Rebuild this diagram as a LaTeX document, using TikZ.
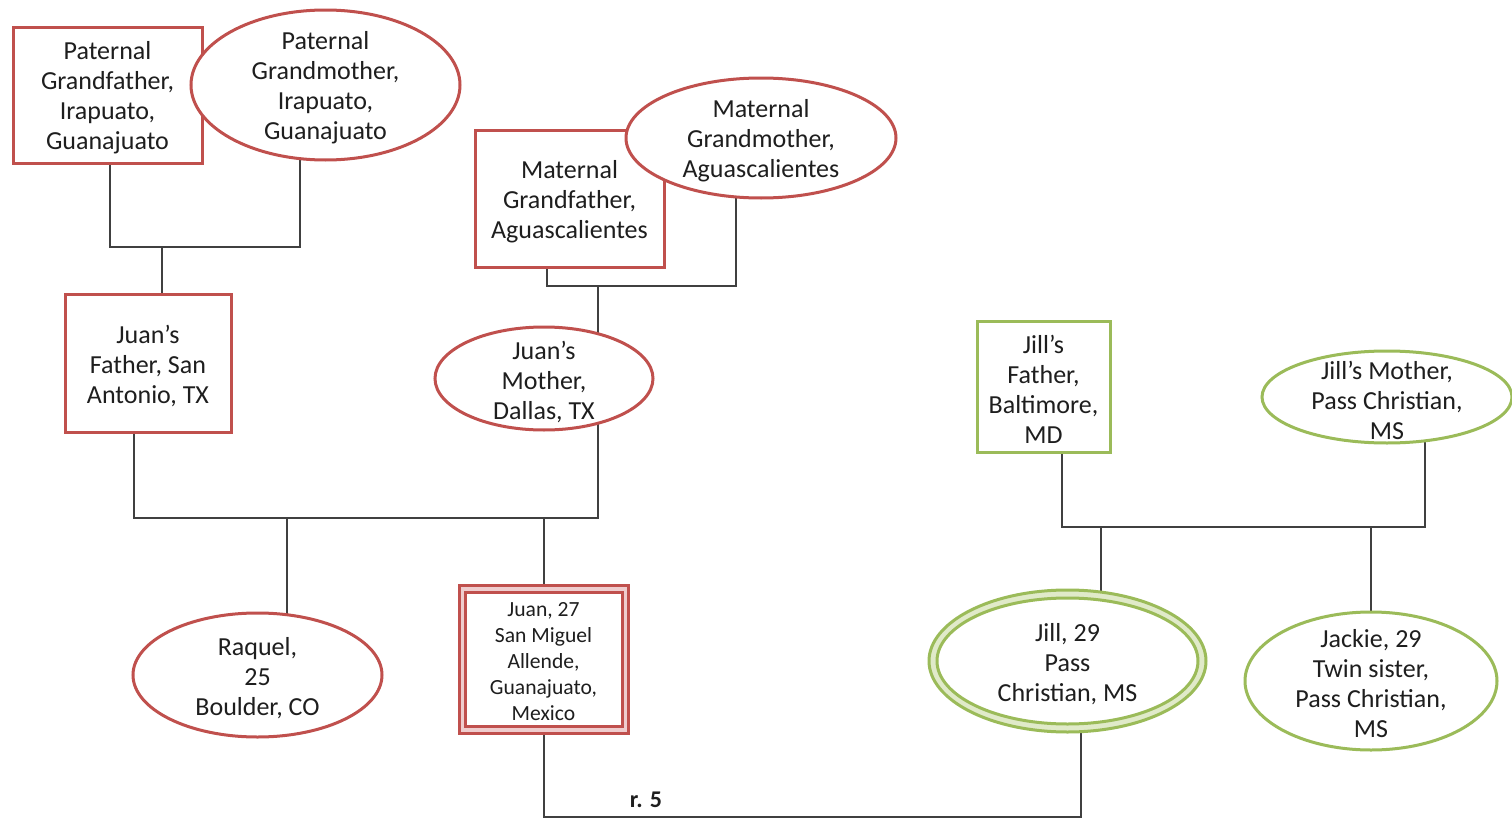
\documentclass[tikz,border=0pt]{standalone}
\usepackage{fontspec}
\setmainfont{Carlito}
\usetikzlibrary{backgrounds,shapes.geometric}
\definecolor{kinred}{HTML}{C0504D}
\definecolor{kinpink}{HTML}{EFCDCE}
\definecolor{kingreen}{HTML}{9BBB59}
\definecolor{kinlight}{HTML}{E0EAC9}
\definecolor{linegray}{HTML}{404040}
\definecolor{inktext}{HTML}{1E1E1E}
\begin{document}
\begin{tikzpicture}[x=0.5pt,y=-0.5pt,
  person/.style={fill=white, line width=1.5pt, inner sep=0pt, outer sep=0pt},
  malered/.style={person, rectangle, draw=kinred},
  femalered/.style={person, ellipse, draw=kinred},
  malegreen/.style={person, rectangle, draw=kingreen},
  femalegreen/.style={person, ellipse, draw=kingreen},
  txt/.style={align=center, text=inktext, inner sep=0pt, yshift=-1.5pt,
    font=\fontsize{13pt}{15pt}\selectfont},
  smalltxt/.style={align=center, text=inktext, inner sep=0pt, yshift=-1.5pt,
    font=\fontsize{10.8pt}{13pt}\selectfont},
  conn/.style={draw=linegray, line width=1pt}]
\useasboundingbox (0,0) rectangle (1512,819);

% Juan's side: grandparents
\node[malered, minimum width=94.5pt, minimum height=68pt,
  label={[txt]center:{Paternal\\Grandfather,\\Irapuato,\\Guanajuato}}]
  (pgf) at (107.5,95) {};
\node[femalered, minimum width=134.5pt, minimum height=75pt,
  label={[txt]center:{Paternal\\Grandmother,\\Irapuato,\\Guanajuato}}]
  (pgm) at (325.5,85) {};
\node[malered, minimum width=94.5pt, minimum height=68.5pt,
  label={[txt]center:{Maternal\\Grandfather,\\Aguascalientes}}]
  (mgf) at (569.5,198.5) {};
\node[femalered, minimum width=135pt, minimum height=60pt,
  label={[txt]center:{Maternal\\Grandmother,\\Aguascalientes}}]
  (mgm) at (761,138) {};

% Juan's parents
\node[malered, minimum width=83pt, minimum height=69pt,
  label={[txt]center:{Juan’s\\Father, San\\Antonio, TX}}]
  (jf) at (148,363) {};
\node[femalered, minimum width=109pt, minimum height=51.5pt,
  label={[txt]center:{Juan’s\\Mother,\\Dallas, TX}}]
  (jm) at (544,378.5) {};

% Juan and his sister
\node[femalered, minimum width=124.5pt, minimum height=62pt,
  label={[txt]center:{Raquel,\\25\\Boulder, CO}}]
  (raq) at (257.5,675) {};
\node[malered, fill=kinpink, minimum width=84.5pt, minimum height=74pt]
  (juan) at (543.5,659) {};
\node[malered, minimum width=78.5pt, minimum height=67pt,
  label={[smalltxt]center:{Juan, 27\\San Miguel\\Allende,\\Guanajuato,\\Mexico}}]
  (juanin) at (juan.center) {};

% Jill's side
\node[malegreen, minimum width=66.5pt, minimum height=65.5pt,
  label={[txt]center:{Jill’s\\Father,\\Baltimore,\\MD}}]
  (jlf) at (1043.5,386.5) {};
\node[femalegreen, minimum width=125pt, minimum height=46pt,
  label={[txt]center:{Jill’s Mother,\\Pass Christian,\\MS}}]
  (jlm) at (1387,397) {};
\node[femalegreen, fill=kinlight, minimum width=138.5pt, minimum height=71pt]
  (jill) at (1067.5,661) {};
\node[femalegreen, minimum width=130.5pt, minimum height=63pt,
  label={[txt]center:{Jill, 29\\Pass\\Christian, MS}}]
  (jillin) at (jill.center) {};
\node[femalegreen, minimum width=126pt, minimum height=69pt,
  label={[txt]center:{Jackie, 29\\Twin sister,\\Pass Christian,\\MS}}]
  (jackie) at (1371,681) {};

\node[text=inktext, inner sep=0pt, font=\bfseries\fontsize{12pt}{14pt}\selectfont]
  (rfive) at (646,800) {r. 5};

% connector attachment points
\coordinate (pbar) at (0,247);
\coordinate (mbar) at (0,286);
\coordinate (jbar) at (0,518);
\coordinate (gbar) at (0,527);
\coordinate (ubar) at (0,817);
\coordinate (pgfx) at ([xshift=1.25pt]pgf.center);
\coordinate (pgmx) at ([xshift=-12.75pt]pgm.center);
\coordinate (mgfx) at ([xshift=-11.25pt]mgf.center);
\coordinate (mgmx) at ([xshift=-12.5pt]mgm.center);
\coordinate (jfup) at ([xshift=7pt]jf.center);
\coordinate (jfdn) at ([xshift=-7pt]jf.center);
\coordinate (jmx) at ([xshift=27pt]jm.center);
\coordinate (raqx) at ([xshift=14.75pt]raq.center);
\coordinate (jillup) at ([xshift=16.75pt]jill.center);
\coordinate (jilldn) at ([xshift=6.75pt]jill.center);
\coordinate (jlfx) at ([xshift=9.25pt]jlf.center);
\coordinate (jlmx) at ([xshift=19pt]jlm.center);

\begin{scope}[on background layer]
  \fill[white] (0,0) rectangle (1512,819);
  % paternal grandparents
  \draw[conn] (pgfx) -- (pgfx |- pbar) -- (pgmx |- pbar) -- (pgmx);
  \draw[conn] (jfup |- pbar) -- (jfup);
  % maternal grandparents
  \draw[conn] (mgfx) -- (mgfx |- mbar) -- (mgmx |- mbar) -- (mgmx);
  \draw[conn] (jmx |- mbar) -- (jmx);
  % Juan's parents
  \draw[conn] (jfdn) -- (jfdn |- jbar) -- (jmx |- jbar) -- (jmx);
  \draw[conn] (raqx |- jbar) -- (raqx);
  \draw[conn] (juan.center |- jbar) -- (juan.center);
  % Jill's parents
  \draw[conn] (jlfx) -- (jlfx |- gbar) -- (jlmx |- gbar) -- (jlmx);
  \draw[conn] (jillup |- gbar) -- (jillup);
  \draw[conn] (jackie.center |- gbar) -- (jackie.center);
  % Juan and Jill
  \draw[conn] (juan.center) -- (juan.center |- ubar) -- (jilldn |- ubar) -- (jilldn);
\end{scope}
\end{tikzpicture}
\end{document}
